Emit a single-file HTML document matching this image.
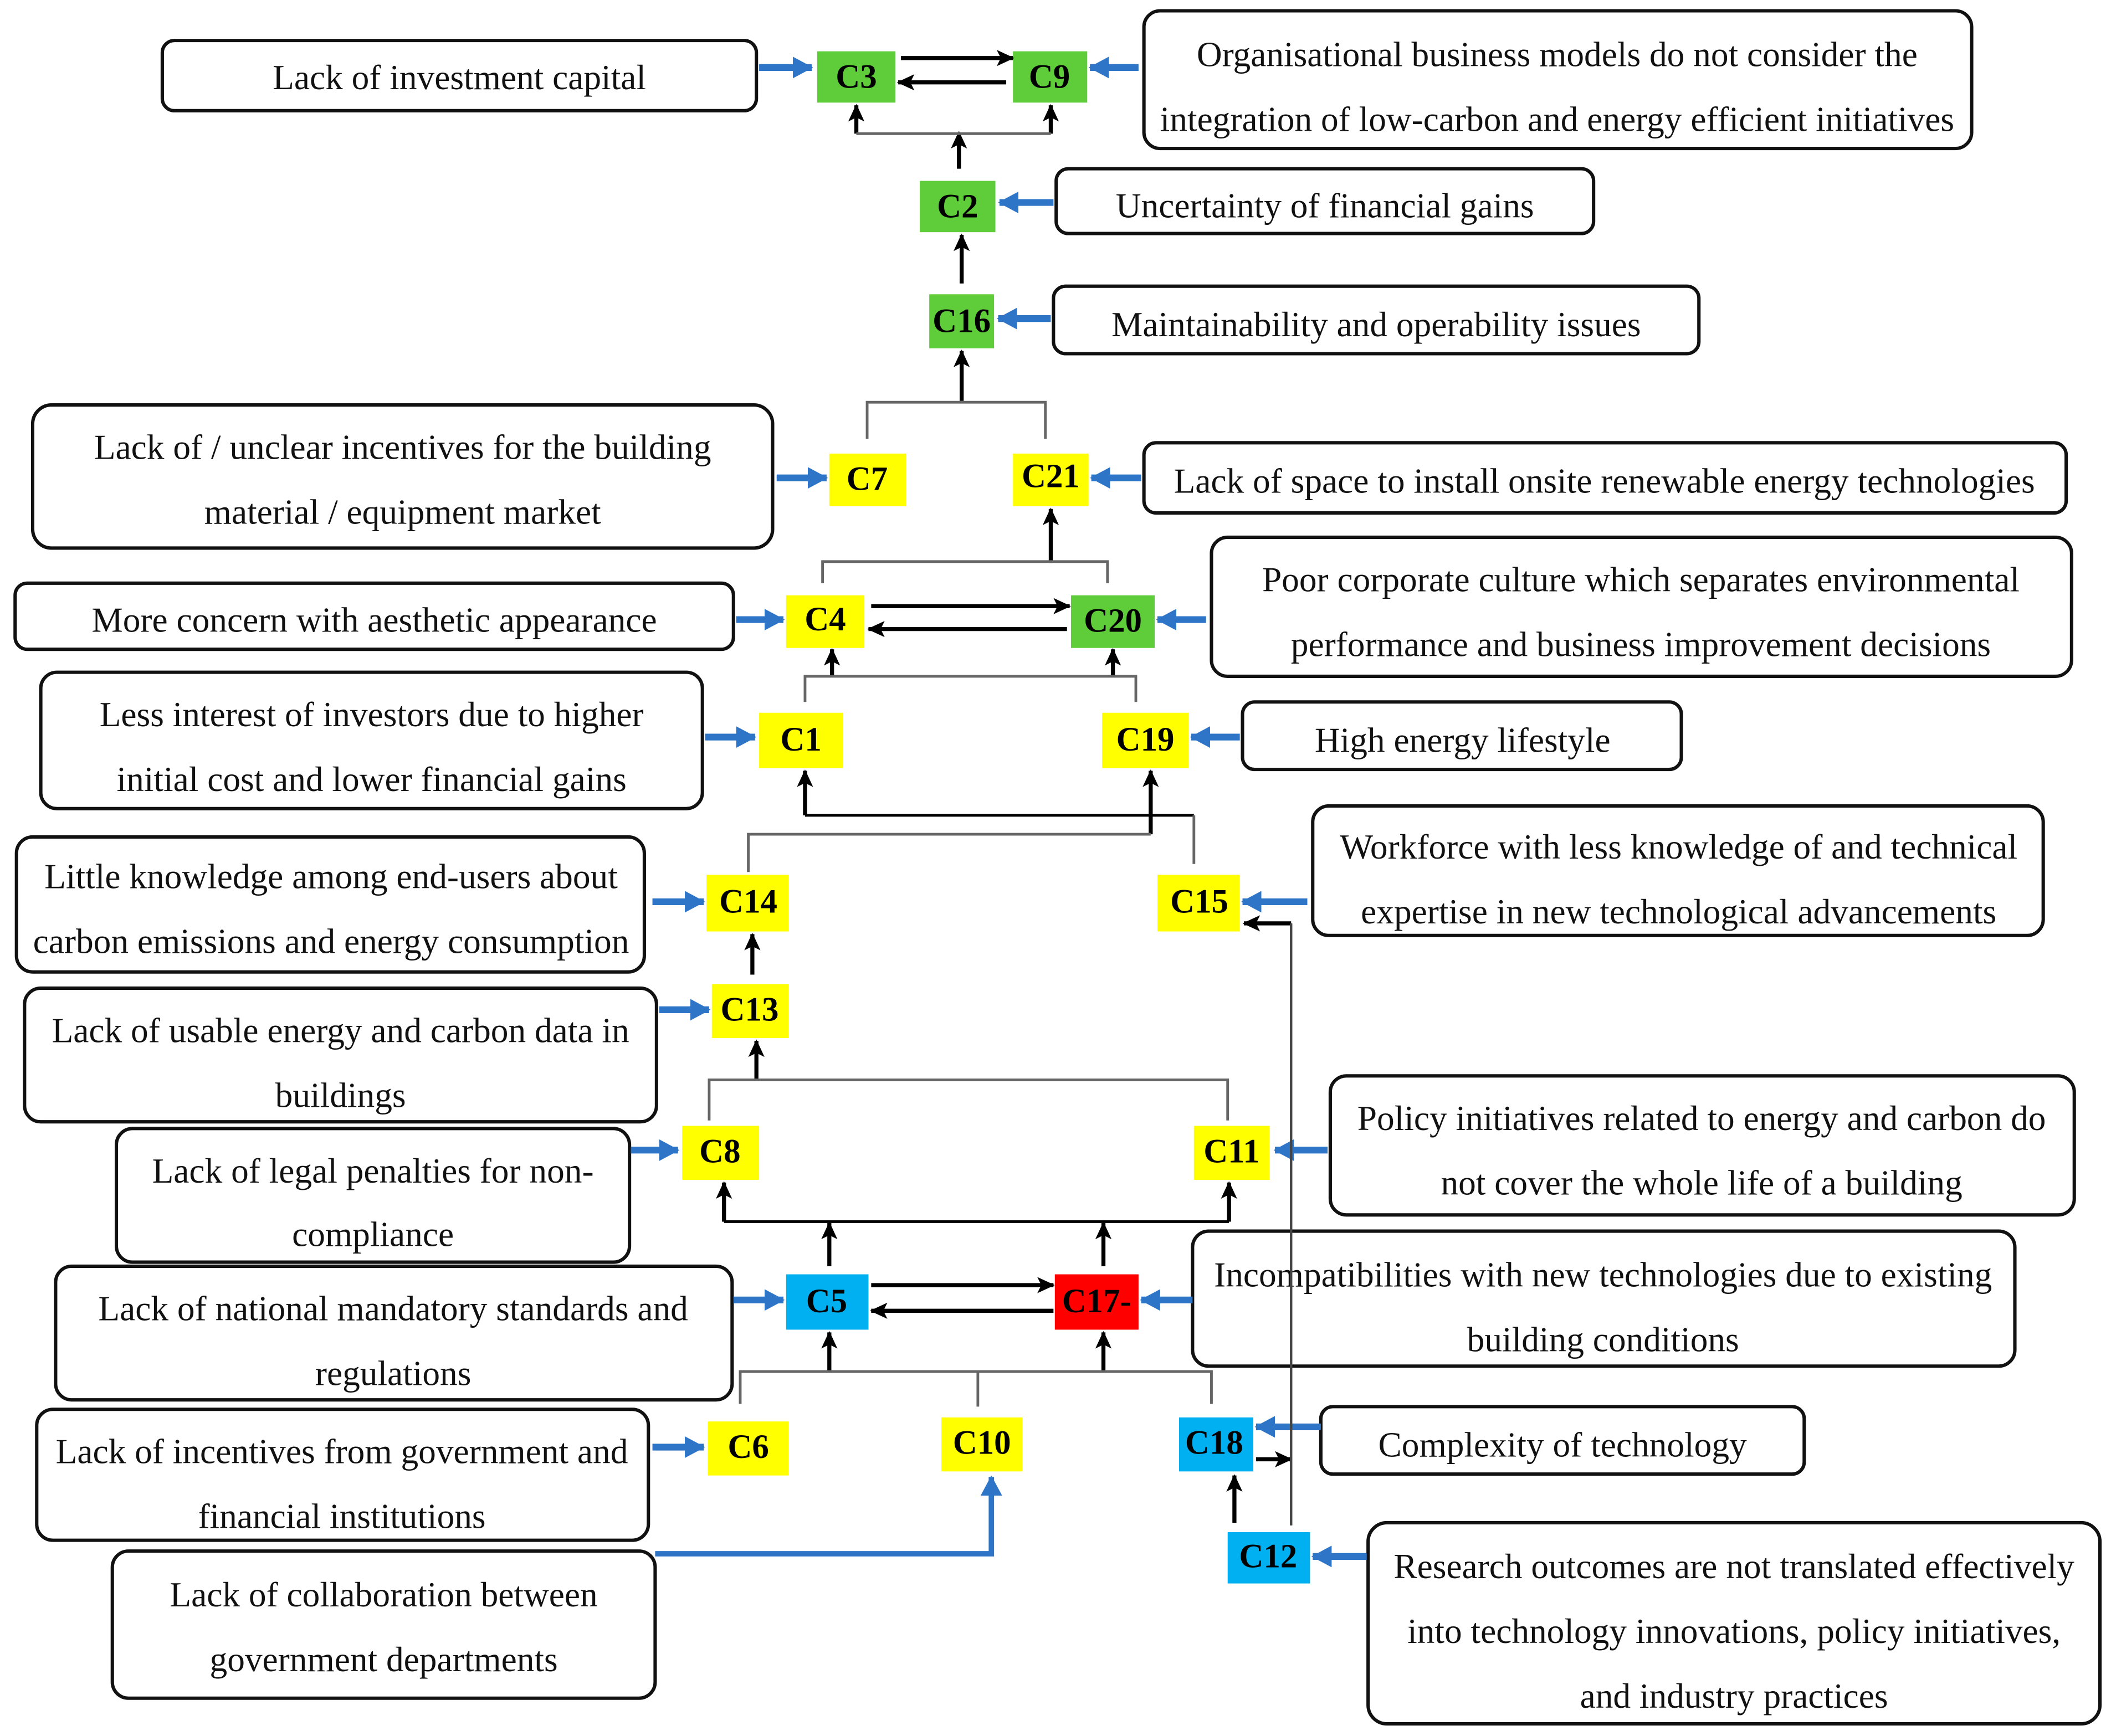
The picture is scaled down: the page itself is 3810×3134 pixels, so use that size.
<!DOCTYPE html>
<html><head><meta charset="utf-8"><style>
html,body{margin:0;padding:0;background:#fff;}
svg{display:block;}
text{font-family:"Liberation Serif",serif;}
.t{font-size:26px;text-anchor:middle;fill:#111;}
.n{font-size:25px;font-weight:bold;text-anchor:middle;fill:#000;}
.b{fill:#fff;stroke:#111;stroke-width:2.5;}
.k{stroke:#000;stroke-width:3;fill:none;}
.g{stroke:#666;stroke-width:2;fill:none;}
.u{stroke:#2e75c8;stroke-width:5;fill:none;}
</style></head><body>
<svg width="3810" height="3134" viewBox="0 0 1563 1286" xmlns="http://www.w3.org/2000/svg">
<defs>
<marker id="ak" markerUnits="userSpaceOnUse" markerWidth="14" markerHeight="14" refX="12" refY="7" orient="auto"><path d="M0,1 L13,7 L0,13 L3,7 z" fill="#000"/></marker>
<marker id="au" markerUnits="userSpaceOnUse" markerWidth="16" markerHeight="18" refX="14" refY="9" orient="auto"><path d="M0,1 L15,9 L0,17 z" fill="#2e75c8"/></marker>
</defs>
<rect class="b" x="120" y="30" width="440" height="52" rx="9"/>
<text class="t" x="340" y="66">Lack of investment capital</text>
<rect class="b" x="847" y="8" width="613" height="102" rx="12"/>
<text class="t" x="1153" y="49">Organisational business models do not consider the</text>
<text class="t" x="1153" y="97">integration of low-carbon and energy efficient initiatives</text>
<rect class="b" x="782" y="125" width="398" height="48" rx="9"/>
<text class="t" x="981" y="161">Uncertainty of financial gains</text>
<rect class="b" x="780" y="212" width="478" height="50" rx="9"/>
<text class="t" x="1019" y="249">Maintainability and operability issues</text>
<rect class="b" x="24" y="300" width="548" height="106" rx="14"/>
<text class="t" x="298" y="340">Lack of / unclear incentives for the building</text>
<text class="t" x="298" y="388">material / equipment market</text>
<rect class="b" x="847" y="328" width="683" height="52" rx="9"/>
<text class="t" x="1188" y="365">Lack of space to install onsite renewable energy technologies</text>
<rect class="b" x="11" y="432" width="532" height="49" rx="9"/>
<text class="t" x="277" y="468">More concern with aesthetic appearance</text>
<rect class="b" x="897" y="398" width="637" height="103" rx="12"/>
<text class="t" x="1215" y="438">Poor corporate culture which separates environmental</text>
<text class="t" x="1215" y="486">performance and business improvement decisions</text>
<rect class="b" x="30" y="498" width="490" height="101" rx="12"/>
<text class="t" x="275" y="538">Less interest of investors due to higher</text>
<text class="t" x="275" y="586">initial cost and lower financial gains</text>
<rect class="b" x="920" y="520" width="325" height="50" rx="9"/>
<text class="t" x="1083" y="557">High energy lifestyle</text>
<rect class="b" x="12" y="620" width="465" height="100" rx="12"/>
<text class="t" x="245" y="658">Little knowledge among end-users about</text>
<text class="t" x="245" y="706">carbon emissions and energy consumption</text>
<rect class="b" x="972" y="597" width="541" height="96" rx="12"/>
<text class="t" x="1243" y="636">Workforce with less knowledge of and technical</text>
<text class="t" x="1243" y="684">expertise in new technological advancements</text>
<rect class="b" x="18" y="732" width="468" height="99" rx="12"/>
<text class="t" x="252" y="772">Lack of usable energy and carbon data in</text>
<text class="t" x="252" y="820">buildings</text>
<rect class="b" x="86" y="836" width="380" height="99" rx="12"/>
<text class="t" x="276" y="876">Lack of legal penalties for non-</text>
<text class="t" x="276" y="923">compliance</text>
<rect class="b" x="985" y="797" width="551" height="103" rx="12"/>
<text class="t" x="1260" y="837">Policy initiatives related to energy and carbon do</text>
<text class="t" x="1260" y="885">not cover the whole life of a building</text>
<rect class="b" x="41" y="938" width="501" height="99" rx="12"/>
<text class="t" x="291" y="978">Lack of national mandatory standards and</text>
<text class="t" x="291" y="1026">regulations</text>
<rect class="b" x="883" y="912" width="609" height="100" rx="12"/>
<text class="t" x="1187" y="953">Incompatibilities with new technologies due to existing</text>
<text class="t" x="1187" y="1001">building conditions</text>
<rect class="b" x="27" y="1044" width="453" height="97" rx="12"/>
<text class="t" x="253" y="1084">Lack of incentives from government and</text>
<text class="t" x="253" y="1132">financial institutions</text>
<rect class="b" x="978" y="1042" width="358" height="50" rx="9"/>
<text class="t" x="1157" y="1079">Complexity of technology</text>
<rect class="b" x="83" y="1149" width="402" height="109" rx="12"/>
<text class="t" x="284" y="1190">Lack of collaboration between</text>
<text class="t" x="284" y="1238">government departments</text>
<rect class="b" x="1013" y="1128" width="542" height="149" rx="14"/>
<text class="t" x="1284" y="1169">Research outcomes are not translated effectively</text>
<text class="t" x="1284" y="1217">into technology innovations, policy initiatives,</text>
<text class="t" x="1284" y="1265">and industry practices</text>

<g>
<rect x="605" y="38" width="58" height="38" fill="#5fcc3a"/><text class="n" x="634" y="65">C3</text>
<rect x="750" y="38" width="55" height="38" fill="#5fcc3a"/><text class="n" x="777" y="65">C9</text>
<rect x="681" y="134" width="56" height="38" fill="#5fcc3a"/><text class="n" x="709" y="161">C2</text>
<rect x="688" y="218" width="48" height="40" fill="#5fcc3a"/><text class="n" x="712" y="246">C16</text>
<rect x="614" y="336" width="57" height="39" fill="#ffff00"/><text class="n" x="642" y="363">C7</text>
<rect x="750" y="336" width="56" height="39" fill="#ffff00"/><text class="n" x="778" y="361">C21</text>
<rect x="582" y="441" width="58" height="39" fill="#ffff00"/><text class="n" x="611" y="467">C4</text>
<rect x="793" y="441" width="62" height="39" fill="#5fcc3a"/><text class="n" x="824" y="468">C20</text>
<rect x="562" y="528" width="62" height="41" fill="#ffff00"/><text class="n" x="593" y="556">C1</text>
<rect x="816" y="528" width="64" height="41" fill="#ffff00"/><text class="n" x="848" y="556">C19</text>
<rect x="523" y="648" width="61" height="42" fill="#ffff00"/><text class="n" x="554" y="676">C14</text>
<rect x="857" y="648" width="61" height="42" fill="#ffff00"/><text class="n" x="888" y="676">C15</text>
<rect x="527" y="729" width="57" height="40" fill="#ffff00"/><text class="n" x="555" y="756">C13</text>
<rect x="505" y="834" width="57" height="40" fill="#ffff00"/><text class="n" x="533" y="861">C8</text>
<rect x="884" y="834" width="56" height="40" fill="#ffff00"/><text class="n" x="912" y="861">C11</text>
<rect x="582" y="944" width="61" height="41" fill="#00b0f0"/><text class="n" x="612" y="972">C5</text>
<rect x="781" y="944" width="62" height="41" fill="#ff0000"/><text class="n" x="812" y="972">C17-</text>
<rect x="524" y="1053" width="60" height="40" fill="#ffff00"/><text class="n" x="554" y="1080">C6</text>
<rect x="697" y="1050" width="60" height="40" fill="#ffff00"/><text class="n" x="727" y="1077">C10</text>
<rect x="873" y="1050" width="55" height="40" fill="#00b0f0"/><text class="n" x="899" y="1077">C18</text>
<rect x="909" y="1135" width="61" height="38" fill="#00b0f0"/><text class="n" x="939" y="1161">C12</text>
</g>

<g class="u">
<line x1="562" y1="50" x2="601" y2="50" marker-end="url(#au)"/>
<line x1="843" y1="50" x2="807" y2="50" marker-end="url(#au)"/>
<line x1="780" y1="150" x2="740" y2="150" marker-end="url(#au)"/>
<line x1="778" y1="236" x2="739" y2="236" marker-end="url(#au)"/>
<line x1="575" y1="354" x2="612" y2="354" marker-end="url(#au)"/>
<line x1="845" y1="354" x2="808" y2="354" marker-end="url(#au)"/>
<line x1="545" y1="459" x2="580" y2="459" marker-end="url(#au)"/>
<line x1="893" y1="459" x2="857" y2="459" marker-end="url(#au)"/>
<line x1="522" y1="546" x2="559" y2="546" marker-end="url(#au)"/>
<line x1="918" y1="546" x2="882" y2="546" marker-end="url(#au)"/>
<line x1="483" y1="668" x2="521" y2="668" marker-end="url(#au)"/>
<line x1="968" y1="668" x2="920" y2="668" marker-end="url(#au)"/>
<line x1="488" y1="748" x2="525" y2="748" marker-end="url(#au)"/>
<line x1="467" y1="852" x2="502" y2="852" marker-end="url(#au)"/>
<line x1="983" y1="852" x2="944" y2="852" marker-end="url(#au)"/>
<line x1="543" y1="963" x2="580" y2="963" marker-end="url(#au)"/>
<line x1="883" y1="963" x2="845" y2="963" marker-end="url(#au)"/>
<line x1="483" y1="1072" x2="521" y2="1072" marker-end="url(#au)"/>
<line x1="978" y1="1057" x2="930" y2="1057" marker-end="url(#au)"/>
<line x1="1012" y1="1153" x2="972" y2="1153" marker-end="url(#au)"/>
<polyline points="485,1151 734,1151 734,1094" stroke-width="4" marker-end="url(#au)"/>
</g>

<g class="k">
<line x1="667" y1="43" x2="750" y2="43" marker-end="url(#ak)"/>
<line x1="745" y1="61" x2="665" y2="61" marker-end="url(#ak)"/>
<line x1="634" y1="99" x2="634" y2="78" marker-end="url(#ak)"/>
<line x1="778" y1="99" x2="778" y2="78" marker-end="url(#ak)"/>
<line x1="710" y1="125" x2="710" y2="98" marker-end="url(#ak)"/>
<line x1="712" y1="210" x2="712" y2="174" marker-end="url(#ak)"/>
<line x1="712" y1="297" x2="712" y2="260" marker-end="url(#ak)"/>
<line x1="778" y1="417" x2="778" y2="377" marker-end="url(#ak)"/>
<line x1="645" y1="449" x2="792" y2="449" marker-end="url(#ak)"/>
<line x1="790" y1="466" x2="643" y2="466" marker-end="url(#ak)"/>
<line x1="616" y1="501" x2="616" y2="481" marker-end="url(#ak)"/>
<line x1="824" y1="501" x2="824" y2="481" marker-end="url(#ak)"/>
<line x1="596" y1="604" x2="596" y2="571" marker-end="url(#ak)"/>
<line x1="852" y1="618" x2="852" y2="571" marker-end="url(#ak)"/>
<line x1="557" y1="722" x2="557" y2="692" marker-end="url(#ak)"/>
<line x1="560" y1="800" x2="560" y2="771" marker-end="url(#ak)"/>
<line x1="536" y1="905" x2="536" y2="876" marker-end="url(#ak)"/>
<line x1="910" y1="905" x2="910" y2="876" marker-end="url(#ak)"/>
<line x1="614" y1="938" x2="614" y2="906" marker-end="url(#ak)"/>
<line x1="817" y1="938" x2="817" y2="906" marker-end="url(#ak)"/>
<line x1="645" y1="952" x2="780" y2="952" marker-end="url(#ak)"/>
<line x1="780" y1="971" x2="645" y2="971" marker-end="url(#ak)"/>
<line x1="614" y1="1016" x2="614" y2="987" marker-end="url(#ak)"/>
<line x1="817" y1="1016" x2="817" y2="987" marker-end="url(#ak)"/>
<line x1="930" y1="1081" x2="956" y2="1081" marker-end="url(#ak)"/>
<line x1="914" y1="1128" x2="914" y2="1093" marker-end="url(#ak)"/>
<line x1="956" y1="684" x2="921" y2="684" marker-end="url(#ak)"/>
</g>
<line x1="596" y1="604" x2="884" y2="604" stroke="#000" stroke-width="2"/>
<line x1="536" y1="905" x2="910" y2="905" stroke="#000" stroke-width="2"/>
<line x1="956" y1="1130" x2="956" y2="684" stroke="#444" stroke-width="1.8"/>

<g class="g">
<polyline points="634,99 778,99"/>
<polyline points="642,325 642,298 774,298 774,325"/>
<polyline points="609,432 609,416 820,416 820,432"/>
<polyline points="596,520 596,501 841,501 841,520"/>
<polyline points="884,640 884,604"/>
<polyline points="554,646 554,618 852,618"/>
<polyline points="525,830 525,800 909,800 909,830"/>
<polyline points="548,1040 548,1016 897,1016 897,1040"/>
<polyline points="724,1016 724,1042"/>
</g>
</svg>
</body></html>
